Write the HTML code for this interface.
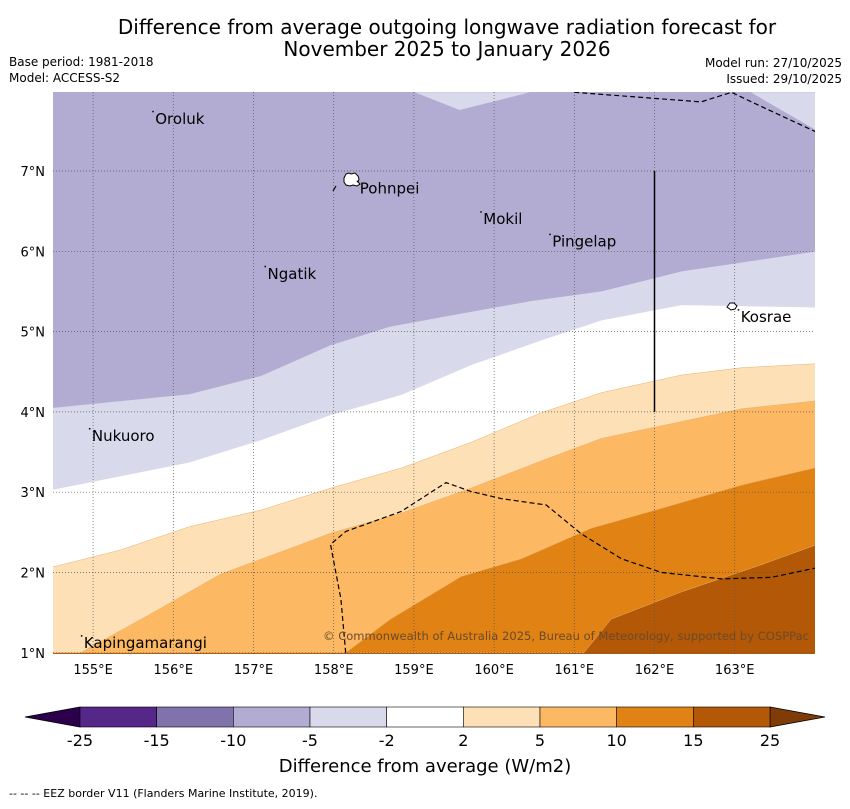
<!DOCTYPE html>
<html><head><meta charset="utf-8"><style>
body{margin:0;background:#fff;width:850px;height:804px;overflow:hidden;font-family:"Liberation Sans","DejaVu Sans",sans-serif}
svg text{font-family:"DejaVu Sans","Liberation Sans",sans-serif}
</style></head><body>
<svg id="c" width="850" height="804" xmlns="http://www.w3.org/2000/svg">
<text x="447" y="34" text-anchor="middle" font-size="20">Difference from average outgoing longwave radiation forecast for</text>
<text x="447" y="56" text-anchor="middle" font-size="20">November 2025 to January 2026</text>
<text x="9" y="66" font-size="12">Base period: 1981-2018</text>
<text x="9" y="82" font-size="12">Model: ACCESS-S2</text>
<text x="842" y="67" font-size="12" text-anchor="end">Model run: 27/10/2025</text>
<text x="842" y="83" font-size="12" text-anchor="end">Issued: 29/10/2025</text>
<defs><clipPath id="mc"><rect x="53" y="92" width="762" height="562"/></clipPath></defs>
<g id="map" clip-path="url(#mc)"></g>
<g id="axes"></g>
<g id="cbar"></g>
<text x="425" y="772" text-anchor="middle" font-size="18">Difference from average (W/m2)</text>
<text x="9" y="797" font-size="11">--  --  -- EEZ border V11 (Flanders Marine Institute, 2019).</text>
</svg>
<script>
const NS="http://www.w3.org/2000/svg";
const lonTicks=[155,156,157,158,159,160,161,162,163];
const latTicks=[1,2,3,4,5,6,7];
const bandColors=["#b2abd2","#d8daeb","#ffffff","#fee0b6","#fdb863","#e08214","#b35806"];
const cbColors=["#542788","#8073ac","#b2abd2","#d8daeb","#ffffff","#fee0b6","#fdb863","#e08214","#b35806"];
const cbLabels=["-25","-15","-10","-5","-2","2","5","10","15","25"];
// contour boundaries [lon,lat]
const bndA=[[154.5,4.05],[156.2,4.22],[157.1,4.45],[157.96,4.83],[158.7,5.06],[159.46,5.2],[160.46,5.38],[161.34,5.5],[162.34,5.75],[164.03,6.0]];
const bndB=[[154.5,3.03],[156.2,3.37],[157.1,3.65],[157.96,3.96],[158.84,4.21],[159.71,4.58],[160.59,4.89],[161.34,5.14],[162.34,5.33],[164.03,5.3]];
const bndC=[[154.5,2.07],[155.34,2.28],[156.2,2.57],[157.1,2.78],[157.96,3.05],[158.84,3.3],[159.71,3.62],[160.59,3.99],[161.34,4.24],[162.34,4.46],[163.09,4.55],[164.03,4.6]];
const bndD=[[154.84,1.0],[155.71,1.48],[156.59,1.98],[157.46,2.3],[157.96,2.49],[158.84,2.74],[159.71,3.05],[160.59,3.39],[161.34,3.67],[162.34,3.88],[163.09,4.04],[164.03,4.14]];
const bndE=[[158.15,1.0],[158.71,1.42],[159.59,1.95],[160.34,2.17],[161.21,2.55],[162.09,2.8],[163.09,3.09],[164.03,3.31]];
const bndF=[[161.12,1.0],[161.46,1.42],[162.34,1.76],[163.34,2.1],[164.03,2.35]];
const topLight1=[[159.01,7.98],[159.57,7.76],[160.45,7.98]];
const topLight2=[[163.2,7.98],[164.03,7.98],[164.03,7.5]];
const eezTop=[[161.0,7.98],[162.58,7.86],[162.96,7.98],[163.21,7.86],[164.03,7.48]];
const eezBot=[[158.15,1.0],[158.09,1.67],[157.96,2.35],[158.15,2.51],[158.84,2.76],[159.4,3.12],[159.71,3.01],[160.09,2.92],[160.65,2.84],[161.09,2.48],[161.59,2.17],[162.09,2.0],[162.84,1.92],[163.46,1.94],[164.03,2.06]];
const towns=[["Oroluk",155.75,7.65],["Pohnpei",158.3,6.78],["Mokil",159.84,6.4],["Pingelap",160.7,6.12],["Ngatik",157.15,5.72],["Kosrae",163.05,5.18],["Nukuoro",154.96,3.7],["Kapingamarangi",154.86,1.12]];
const X=lon=>53+(lon-154.5)*80.2;
const Y=lat=>171+(7-lat)*80.3;
function el(t,a,p){const e=document.createElementNS(NS,t);for(const k in a)e.setAttribute(k,a[k]);(p||document.getElementById('map')).appendChild(e);return e;}
const pts=b=>b.map(p=>X(p[0]).toFixed(1)+","+Y(p[1]).toFixed(1)).join(" ");
let r=el('rect',{x:53,y:92,width:762,height:562,fill:bandColors[0]});


const bands=[bndA,bndB,bndC,bndD,bndE,bndF];
bands.forEach((b,i)=>{
 const poly=pts(b)+" "+X(164.1)+","+Y(0.9)+" "+X(154.4)+","+Y(0.9)+" "+X(154.4)+","+Y(b[0][1]);
 const p=el('polygon',{points:poly,fill:bandColors[i+1],stroke:i>=2?"#e8b070":"none","stroke-width":0.5});
 
 
});
[topLight1,topLight2].forEach((b,i)=>{
 const p=el('polygon',{points:pts(b),fill:bandColors[1]});
 
 
});
lonTicks.forEach(l=>{const g=el('line',{x1:X(l),x2:X(l),y1:92,y2:654,stroke:"#555","stroke-width":0.7,"stroke-dasharray":"1,2"});});
latTicks.forEach(l=>{const g=el('line',{x1:53,x2:815,y1:Y(l),y2:Y(l),stroke:"#555","stroke-width":0.7,"stroke-dasharray":"1,2"});});
[eezTop,eezBot].forEach((b,i)=>{const p=el('polyline',{points:pts(b),fill:"none",stroke:"#000","stroke-width":1.2,"stroke-dasharray":"5,3"});});
let sm=el('line',{x1:333,y1:191,x2:336,y2:186,stroke:"#000","stroke-width":1.2});


let v=el('line',{x1:X(162),x2:X(162),y1:Y(7),y2:Y(4),stroke:"#000","stroke-width":1.5});


let pi=el('path',{d:"M344,178 l2,-4 3,-1 2,1 4,-1 3,3 1,3 -1,3 2,2 -3,2 -4,-1 -3,1 -4,-1 -2,-3z",fill:"#fff",stroke:"#000","stroke-width":1});


let ko=el('path',{d:"M727,307 l3,-4 4,0 3,3 -2,3 -4,1z",fill:"#fff",stroke:"#000","stroke-width":1});


towns.forEach(t=>{
 const tx=el('text',{x:X(t[1])+2,y:Y(t[2])+5,"font-size":15});
 tx.textContent=t[0];
 
 
 el('rect',{x:X(t[1])-1,y:Y(t[2])-8,width:1.5,height:1.5,fill:"#000"});
});
const cr=el('text',{x:809,y:640,"font-size":11.5,fill:"#6b4a2a","text-anchor":"end",textLength:486});
cr.textContent="© Commonwealth of Australia 2025, Bureau of Meteorology, supported by COSPPac";


const ax=document.getElementById('axes');
lonTicks.forEach(l=>{const t=el('text',{x:X(l),y:674,"font-size":13,"text-anchor":"middle"},ax);t.textContent=l+"°E";});
latTicks.forEach(l=>{const t=el('text',{x:45,y:Y(l)+5,"font-size":13,"text-anchor":"end"},ax);t.textContent=l+"°N";});
const cb=document.getElementById('cbar');
const cx0=80,cx1=770,cw=(cx1-cx0)/cbColors.length;
let lt=el('polygon',{points:"80,707 25,717 80,727",fill:"#2d004b",stroke:"#000","stroke-width":0.8},cb);


let rt=el('polygon',{points:"770,707 825,717 770,727",fill:"#7f3b08",stroke:"#000","stroke-width":0.8},cb);


cbColors.forEach((c,i)=>{const s=el('rect',{x:cx0+i*cw,y:707,width:cw,height:20,fill:c,stroke:"#000","stroke-width":0.6},cb);});
cbLabels.forEach((l,i)=>{const t=el('text',{x:cx0+i*cw,y:746,"font-size":16,"text-anchor":"middle"},cb);t.textContent=l;});
</script>
</body></html>
